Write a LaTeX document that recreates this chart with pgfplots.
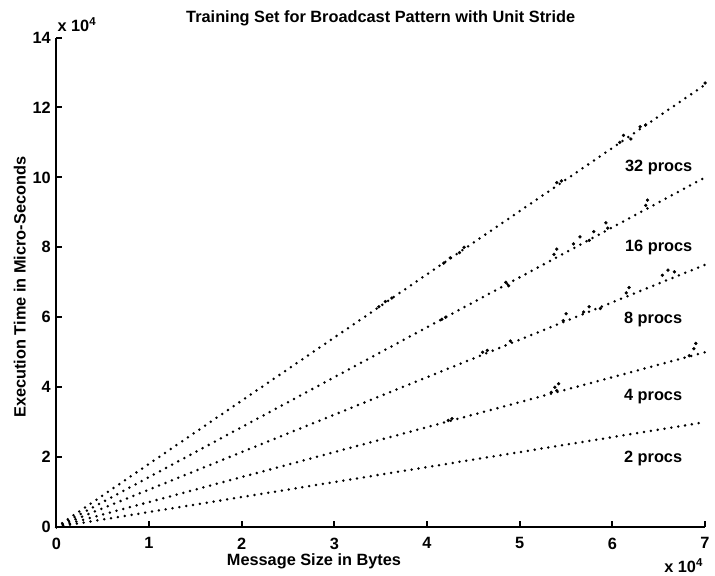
\documentclass[border=0pt]{standalone}
\usepackage{pgfplots}
\pgfplotsset{compat=1.18}
\usepackage{fontspec}
\setmainfont{Liberation Sans}
\begin{document}
\fontsize{16.5bp}{19bp}\selectfont\bfseries
\begin{tikzpicture}[x=1bp,y=1bp]
\begin{axis}[
  at={(0,0)}, anchor=south west,
  width=656bp, height=495bp, scale only axis,
  xmin=0, xmax=7, ymin=0, ymax=14,
  axis x line*=bottom, axis y line*=left,
  tick align=inside, major tick length=6bp,
  xtick={0,...,7}, ytick={0,2,...,14},
  tick label style={font=\fontsize{16.5bp}{19bp}\selectfont\bfseries},
  xticklabel style={yshift=-5bp},
  /pgf/number format/assume math mode=true,
  axis line style={line width=2bp},
  tick style={line width=2bp, black},
  clip=false,
  dotline/.style={black, line width=2.8bp, line cap=round, dash pattern=on 0pt off 7bp},
  pts/.style={only marks, mark=*, mark size=1.5bp, black},
]
\addplot[dotline] coordinates {(0,0) (7,12.65)};
\addplot[dotline] coordinates {(0,0) (7,10.0)};
\addplot[dotline] coordinates {(0,0) (7,7.5)};
\addplot[dotline] coordinates {(0,0) (7,5.0)};
\addplot[dotline] coordinates {(0,0) (7,3.0)};
% measured points, 32 procs
\addplot[pts] coordinates {(3.48,6.3) (3.55,6.45) (3.62,6.55) (4.18,7.55) (4.25,7.7) (4.35,7.85) (4.4,8.0) (5.4,9.85) (5.45,9.9) (6.08,11.0) (6.12,11.2) (6.2,11.1) (6.3,11.45) (6.36,11.5) (7.0,12.7)};
% 16 procs
\addplot[pts] coordinates {(4.16,5.94) (4.2,6.0) (4.85,7.0) (4.88,6.9) (5.37,7.8) (5.4,7.95) (5.58,8.1) (5.65,8.3) (5.75,8.2) (5.8,8.45) (5.93,8.7) (5.95,8.55) (6.36,9.2) (6.38,9.35)};
% 8 procs
\addplot[pts] coordinates {(4.6,5.0) (4.65,5.05) (4.9,5.32) (5.47,5.9) (5.5,6.1) (5.69,6.15) (5.75,6.3) (5.87,6.25) (6.15,6.7) (6.18,6.85) (6.54,7.2) (6.6,7.35) (6.67,7.3)};
% 4 procs
\addplot[pts] coordinates {(4.23,3.05) (4.27,3.1) (5.34,3.85) (5.38,4.0) (5.42,4.1) (5.4,3.9) (6.83,4.9) (6.88,5.1) (6.9,5.25)};
% labels
\node[anchor=center] at (axis cs:6.5,10.27) {32 procs};
\node[anchor=center] at (axis cs:6.5,8.0) {16 procs};
\node[anchor=center] at (axis cs:6.44,5.94) {8 procs};
\node[anchor=center] at (axis cs:6.44,3.73) {4 procs};
\node[anchor=center] at (axis cs:6.44,1.95) {2 procs};
\node[anchor=base] at (rel axis cs:0.5,1) [yshift=15bp] {Training Set for Broadcast Pattern with Unit Stride};
\node[anchor=base] at (axis cs:2.78,0) [yshift=-39bp] {Message Size in Bytes};
\node[xshift=-31bp, anchor=base, rotate=90] at (rel axis cs:0,0.49) {Execution Time in Micro-Seconds};
\node[anchor=base west, inner sep=0pt] at (rel axis cs:0,1) [xshift=1bp, yshift=6bp] {x 10\textsuperscript{4}};
\node[anchor=base east, inner sep=0pt] at (rel axis cs:1,0) [xshift=-2bp, yshift=-46bp] {x 10\textsuperscript{4}};
\end{axis}
\path[use as bounding box] (-57,-49) rectangle (658,533);
\end{tikzpicture}
\end{document}
